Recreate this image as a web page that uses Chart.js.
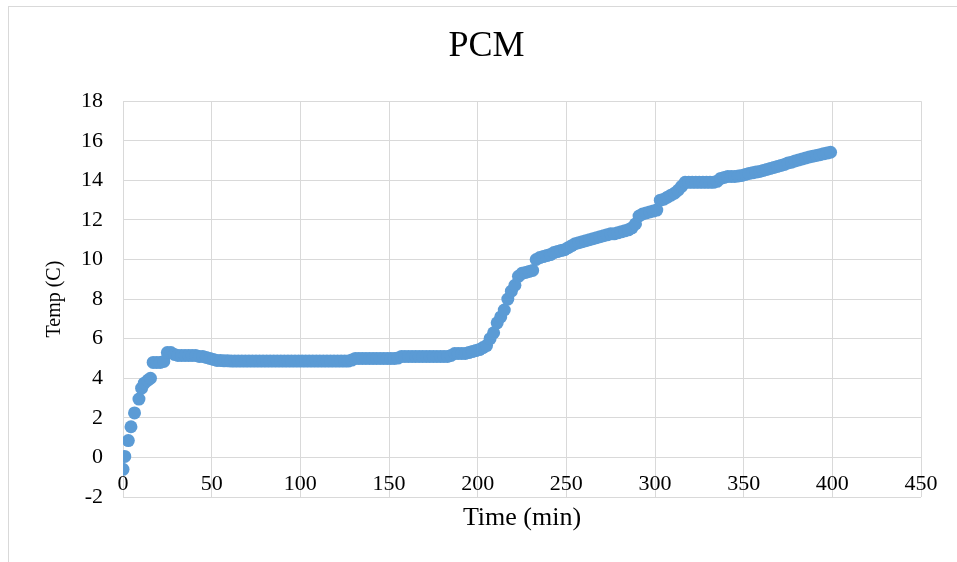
<!DOCTYPE html>
<html>
<head>
<meta charset="utf-8">
<title>PCM</title>
<script src="https://cdn.jsdelivr.net/npm/chart.js@4.4.1/dist/chart.umd.min.js"></script>
<style>
  html, body { margin: 0; padding: 0; background: #fff; overflow: hidden; }
  #frame {
    position: absolute; left: 8px; top: 6px;
    width: 955px; height: 560px;
    border-left: 1px solid #d9d9d9; border-top: 1px solid #d9d9d9;
  }
  #pcmChart { display: block; }
</style>
</head>
<body>
<div id="frame"><canvas id="pcmChart" width="955" height="560"></canvas></div>
<script>
// logged time (min) and temperature (C) of the PCM sample
const timeMin = [
  0, 1, 3, 4.5, 6.5, 9, 10.5, 12, 14, 15.5,
  17, 19, 21, 23, 25, 27, 29, 31, 33, 35,
  37, 39, 41, 43, 45, 47, 49, 51, 53, 55,
  57, 59, 61, 63, 65, 67, 69, 71, 73, 75,
  77, 79, 81, 83, 85, 87, 89, 91, 93, 95,
  97, 99, 101, 103, 105, 107, 109, 111, 113, 115,
  117, 119, 121, 123, 125, 127, 129, 131, 133, 135,
  137, 139, 141, 143, 145, 147, 149, 151, 153, 155,
  157, 159, 161, 163, 165, 167, 169, 171, 173, 175,
  177, 179, 181, 183, 185, 187, 189, 191, 193, 195,
  197, 199, 201, 203, 205, 207, 209, 211, 213, 215,
  217, 219, 221, 223, 225, 227, 229, 231, 233, 235,
  237, 239, 241, 243, 245, 247, 249, 251, 253, 255,
  257, 259, 261, 263, 265, 267, 269, 271, 273, 275,
  277, 279, 281, 283, 285, 287, 289, 291, 293, 295,
  297, 299, 301, 303, 305, 307, 309, 311, 313, 315,
  317, 319, 321, 323, 325, 327, 329, 331, 333, 335,
  337, 339, 341, 343, 345, 347, 349, 351, 353, 355,
  357, 359, 361, 363, 365, 367, 369, 371, 373, 375,
  377, 379, 381, 383, 385, 387, 389, 391, 393, 395,
  397, 399
];
const tempC = [
  -0.6, 0.05, 0.85, 1.55, 2.25, 2.95, 3.5, 3.75, 3.9, 4.0,
  4.8, 4.8, 4.8, 4.85, 5.3, 5.3, 5.2, 5.15, 5.15, 5.15,
  5.15, 5.15, 5.15, 5.1, 5.1, 5.05, 5.0, 4.95, 4.9, 4.9,
  4.88, 4.88, 4.87, 4.87, 4.87, 4.87, 4.87, 4.87, 4.87, 4.87,
  4.87, 4.87, 4.87, 4.87, 4.87, 4.87, 4.87, 4.87, 4.87, 4.87,
  4.87, 4.87, 4.87, 4.87, 4.87, 4.87, 4.87, 4.87, 4.87, 4.87,
  4.87, 4.87, 4.87, 4.87, 4.87, 4.87, 4.92, 5.0, 5.0, 5.0,
  5.0, 5.0, 5.0, 5.0, 5.0, 5.0, 5.0, 5.0, 5.0, 5.02,
  5.1, 5.1, 5.1, 5.1, 5.1, 5.1, 5.1, 5.1, 5.1, 5.1,
  5.1, 5.1, 5.1, 5.1, 5.15, 5.25, 5.25, 5.25, 5.25, 5.3,
  5.35, 5.4, 5.45, 5.55, 5.65, 6.0, 6.3, 6.8, 7.1, 7.45,
  8.0, 8.4, 8.7, 9.15, 9.3, 9.35, 9.4, 9.45, 10.0, 10.1,
  10.15, 10.2, 10.25, 10.35, 10.4, 10.45, 10.5, 10.6, 10.7, 10.8,
  10.85, 10.9, 10.95, 11.0, 11.05, 11.1, 11.15, 11.2, 11.25, 11.3,
  11.3, 11.35, 11.4, 11.45, 11.5, 11.6, 11.8, 12.2, 12.3, 12.35,
  12.4, 12.45, 12.5, 13.0, 13.05, 13.15, 13.25, 13.35, 13.5, 13.7,
  13.9, 13.9, 13.9, 13.9, 13.9, 13.9, 13.9, 13.9, 13.9, 13.95,
  14.1, 14.15, 14.2, 14.2, 14.2, 14.22, 14.25, 14.3, 14.35, 14.38,
  14.42, 14.45, 14.5, 14.55, 14.6, 14.65, 14.7, 14.75, 14.8, 14.88,
  14.92, 14.98, 15.03, 15.08, 15.13, 15.18, 15.22, 15.26, 15.3, 15.34,
  15.38, 15.42
];

const xTicks = [0, 50, 100, 150, 200, 250, 300, 350, 400, 450];
const yTicks = [-2, 0, 2, 4, 6, 8, 10, 12, 14, 16, 18];

const serif = "'Liberation Serif', 'Times New Roman', serif";
const gridColor = '#d9d9d9';

const points = timeMin.map((t, i) => ({ x: t, y: tempC[i] }));

new Chart(document.getElementById('pcmChart').getContext('2d'), {
  type: 'scatter',
  data: {
    datasets: [{
      label: 'PCM',
      data: points,
      pointRadius: 6.5,
      pointBackgroundColor: '#5b9bd5',
      pointBorderColor: '#5b9bd5',
      pointBorderWidth: 0,
      showLine: false
    }]
  },
  options: {
    responsive: false,
    animation: false,
    // equal side padding keeps the title centred on the whole chart
    layout: { padding: { left: 43, right: 43, top: 0, bottom: 70 } },
    plugins: {
      legend: { display: false },
      tooltip: { enabled: false },
      title: {
        display: true,
        text: 'PCM',
        color: '#000',
        font: { family: serif, size: 36, weight: 'normal' },
        padding: { top: 18, bottom: 33 }
      }
    },
    scales: {
      x: {
        type: 'linear',
        // horizontal axis crosses at 0, labels sit just under that line
        position: { y: 0 },
        min: xTicks[0],
        max: xTicks[xTicks.length - 1],
        afterBuildTicks: (scale) => { scale.ticks = xTicks.map(v => ({ value: v })); },
        afterFit: (scale) => { scale.height = 76; },
        grid: { color: gridColor, lineWidth: 1, drawTicks: false },
        border: { display: false },
        ticks: { color: '#000', padding: 14, maxRotation: 0, autoSkip: false, font: { family: serif, size: 22 } },
        title: {
          display: true,
          text: 'Time (min)',
          color: '#000',
          font: { family: serif, size: 26 },
          padding: { top: 0, bottom: 0 }
        }
      },
      y: {
        min: yTicks[0],
        max: yTicks[yTicks.length - 1],
        afterBuildTicks: (scale) => { scale.ticks = yTicks.map(v => ({ value: v })); },
        afterFit: (scale) => { scale.width = 71; },
        grid: { color: gridColor, lineWidth: 1, drawTicks: false },
        border: { display: false },
        ticks: { color: '#000', padding: 20, font: { family: serif, size: 22 } },
        title: {
          display: true,
          text: 'Temp (C)',
          color: '#000',
          font: { family: serif, size: 20 },
          padding: { top: -9, bottom: 0 }
        }
      }
    }
  }
});
</script>
</body>
</html>
